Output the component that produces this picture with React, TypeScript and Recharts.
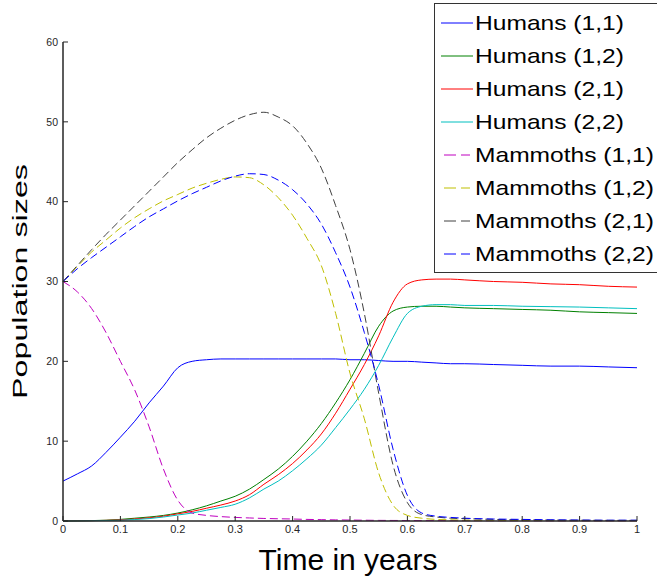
import { Legend, Line, LineChart, XAxis, YAxis } from "recharts";

// time grid (years)
const t = [
	0, 0.025, 0.05, 0.075, 0.1, 0.125, 0.15, 0.175, 0.2, 0.225, 0.25, 0.275, 0.3,
	0.325, 0.35, 0.375, 0.4, 0.425, 0.45, 0.475, 0.5, 0.525, 0.55, 0.575, 0.6,
	0.625, 0.65, 0.675, 0.7, 0.75, 0.8, 0.85, 0.9, 0.95, 1,
];

const humans11 = [
	5.0, 5.9, 6.9, 8.6, 10.5, 12.5, 14.8, 16.9, 19.2, 20.0, 20.2, 20.3, 20.3,
	20.3, 20.3, 20.3, 20.3, 20.3, 20.3, 20.3, 20.2, 20.2, 20.1, 20.0, 20.0, 19.9,
	19.8, 19.7, 19.7, 19.6, 19.5, 19.4, 19.4, 19.3, 19.2,
];
const humans12 = [
	0, 0.02, 0.05, 0.1, 0.2, 0.35, 0.5, 0.7, 1.0, 1.4, 1.9, 2.5, 3.1, 4.0, 5.2,
	6.5, 8.1, 10.0, 12.2, 14.8, 17.7, 21.0, 24.4, 26.3, 26.8, 26.9, 26.9, 26.8,
	26.7, 26.6, 26.5, 26.4, 26.2, 26.1, 26.0,
];
const humans21 = [
	0, 0.02, 0.04, 0.08, 0.15, 0.25, 0.4, 0.6, 0.9, 1.2, 1.6, 2.0, 2.5, 3.3, 4.6,
	5.8, 7.2, 8.9, 10.9, 13.5, 16.5, 19.6, 23.2, 27.4, 29.7, 30.2, 30.3, 30.3,
	30.2, 30.0, 29.9, 29.7, 29.6, 29.4, 29.3,
];
const humans22 = [
	0, 0.01, 0.03, 0.06, 0.1, 0.18, 0.3, 0.5, 0.75, 1.0, 1.35, 1.7, 2.1, 2.9, 4.0,
	5.0, 6.3, 7.8, 9.5, 11.7, 14.0, 16.5, 19.5, 23.0, 26.0, 26.9, 27.1, 27.1,
	27.0, 27.0, 26.9, 26.85, 26.8, 26.7, 26.6,
];
const mammoths11 = [
	30.0, 28.7, 26.6, 23.6, 20.0, 16.4, 11.8, 6.5, 2.6, 1.0, 0.7, 0.55, 0.45,
	0.38, 0.32, 0.28, 0.25, 0.2, 0.17, 0.14, 0.12, 0.1, 0.08, 0.07, 0.06, 0.05,
	0.05, 0.04, 0.04, 0.03, 0.03, 0.02, 0.02, 0.02, 0.02,
];
const mammoths12 = [
	30.0, 31.9, 33.7, 35.2, 36.7, 38.0, 39.1, 40.1, 40.9, 41.7, 42.3, 42.8, 43.1,
	43.0, 42.1, 40.5, 38.3, 35.4, 32.0, 26.0, 18.5, 12.8, 6.0, 2.0, 0.7, 0.35, 0.2,
	0.15, 0.1, 0.08, 0.06, 0.05, 0.04, 0.04, 0.03,
];
const mammoths21 = [
	30.0, 32.0, 34.0, 35.9, 37.7, 39.5, 41.3, 43.1, 44.9, 46.5, 48.0, 49.2, 50.2,
	50.9, 51.2, 50.6, 49.5, 47.3, 44.2, 39.5, 34.0, 26.0, 16.0, 7.0, 2.3, 0.8, 0.5,
	0.35, 0.3, 0.2, 0.15, 0.12, 0.1, 0.08, 0.08,
];
const mammoths22 = [
	30.0, 31.6, 33.0, 34.3, 35.6, 36.9, 38.1, 39.1, 40.1, 41.0, 41.8, 42.6, 43.2,
	43.5, 43.4, 42.7, 41.5, 39.7, 37.2, 33.6, 29.3, 23.6, 17.0, 9.0, 3.2, 1.0, 0.6,
	0.45, 0.35, 0.25, 0.2, 0.15, 0.12, 0.1, 0.1,
];

const xTicks = [0, 0.1, 0.2, 0.3, 0.4, 0.5, 0.6, 0.7, 0.8, 0.9, 1];
const yTicks = [0, 10, 20, 30, 40, 50, 60];

const series = [
	{ key: "h11", name: "Humans (1,1)", values: humans11, color: "#0000ff", dash: "" },
	{ key: "h12", name: "Humans (1,2)", values: humans12, color: "#008000", dash: "" },
	{ key: "h21", name: "Humans (2,1)", values: humans21, color: "#ff0000", dash: "" },
	{ key: "h22", name: "Humans (2,2)", values: humans22, color: "#00bfbf", dash: "" },
	{ key: "m11", name: "Mammoths (1,1)", values: mammoths11, color: "#bf00bf", dash: "8 4" },
	{ key: "m12", name: "Mammoths (1,2)", values: mammoths12, color: "#bfbf00", dash: "8 4" },
	{ key: "m21", name: "Mammoths (2,1)", values: mammoths21, color: "#404040", dash: "8 4" },
	{ key: "m22", name: "Mammoths (2,2)", values: mammoths22, color: "#0000ff", dash: "8 4" },
];

const data = t.map((time, i) => {
	const row: Record<string, number> = { t: time };
	for (const s of series) row[s.key] = s.values[i];
	return row;
});

const FONT = '"Liberation Sans", Arial, Helvetica, sans-serif';
const AXIS = "#262626";

function LegendBox() {
	return (
		<div
			style={{
				width: 240,
				boxSizing: "border-box",
				border: "1px solid #333",
				background: "#fff",
				paddingTop: 2,
				paddingBottom: 2,
				fontFamily: FONT,
			}}
		>
			{series.map((s) => (
				<div
					key={s.key}
					style={{ display: "flex", alignItems: "center", height: 33 }}
				>
					<svg height={10} style={{ flex: "none" }} width={40}>
						{s.dash ? (
							<line
								stroke={s.color}
								strokeDasharray="12 5"
								strokeWidth={1}
								x1={9}
								x2={35}
								y1={5}
								y2={5}
							/>
						) : (
							<line stroke={s.color} strokeWidth={1} x1={6} x2={38} y1={5} y2={5} />
						)}
					</svg>
					<span
						style={{
							display: "inline-block",
							fontSize: 21,
							color: "#000",
							whiteSpace: "nowrap",
							transform: "scaleX(1.17)",
							transformOrigin: "left center",
						}}
					>
						{s.name}
					</span>
				</div>
			))}
		</div>
	);
}

export default function App() {
	return (
		<div
			style={{
				position: "relative",
				width: 657,
				height: 579,
				overflow: "hidden",
				background: "#fff",
			}}
		>
			<style>{"body{margin:0}"}</style>
			<LineChart
				data={data}
				height={579}
				margin={{ top: 42, right: 20, bottom: 0, left: 0 }}
				width={657}
			>
				<XAxis
					axisLine={{ stroke: AXIS, strokeWidth: 1.5 }}
					dataKey="t"
					domain={[0, 1]}
					height={58}
					interval={0}
					label={{
						content: ({ viewBox }: any) => (
							<text
								fill="#000"
								fontFamily={FONT}
								fontSize={30}
								textAnchor="middle"
								x={viewBox.x + viewBox.width / 2 - 2}
								y={viewBox.y + 49}
							>
								Time in years
							</text>
						),
					}}
					tick={{ fill: AXIS, fontSize: 11, fontFamily: FONT }}
					tickLine={{ stroke: AXIS }}
					tickMargin={9}
					tickSize={-5}
					ticks={xTicks}
					type="number"
				/>
				<YAxis
					axisLine={{ stroke: AXIS, strokeWidth: 1.5 }}
					domain={[0, 60]}
					interval={0}
					label={{
						content: ({ viewBox }: any) => {
							const cx = viewBox.x + 27;
							const cy = viewBox.y + viewBox.height / 2;
							return (
								<text
									fill="#000"
									fontFamily={FONT}
									fontSize={21}
									lengthAdjust="spacingAndGlyphs"
									textAnchor="middle"
									textLength={235}
									transform={`rotate(-90, ${cx}, ${cy})`}
									x={cx}
									y={cy}
								>
									Population sizes
								</text>
							);
						},
					}}
					tick={{ fill: AXIS, fontSize: 10.5, fontFamily: FONT }}
					tickLine={{ stroke: AXIS }}
					tickMargin={10}
					tickSize={-5}
					ticks={yTicks}
					type="number"
					width={63}
				/>
				<Legend
					align="center"
					content={() => <LegendBox />}
					layout="horizontal"
					verticalAlign="middle"
					wrapperStyle={{ top: 3, left: 434, width: 240 }}
				/>
				{series.map((s) => (
					<Line
						activeDot={false}
						dataKey={s.key}
						dot={false}
						isAnimationActive={false}
						key={s.key}
						name={s.name}
						stroke={s.color}
						strokeDasharray={s.dash || undefined}
						strokeWidth={1}
						type="monotone"
					/>
				))}
			</LineChart>
		</div>
	);
}
